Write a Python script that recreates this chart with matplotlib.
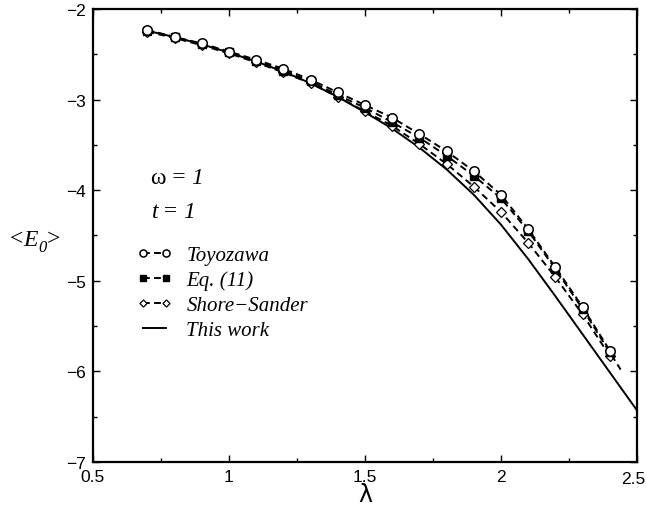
import numpy as np
import matplotlib
matplotlib.use("Agg")
import matplotlib.pyplot as plt
from matplotlib.ticker import MultipleLocator

# coupling values of the computed points
lam = [0.7, 0.8, 0.9, 1.0, 1.1, 1.2, 1.3, 1.4, 1.5, 1.6, 1.7, 1.8, 1.9, 2.0, 2.1, 2.2, 2.3, 2.4]

toyozawa = [-2.23, -2.31, -2.38, -2.47, -2.56, -2.66, -2.78, -2.92, -3.06,
            -3.20, -3.38, -3.57, -3.79, -4.05, -4.43, -4.85, -5.29, -5.77]

# Eq. (11): the dashed line runs a little past the last point
lam_eq11 = lam + [2.44]
eq11 = [-2.24, -2.31, -2.39, -2.48, -2.57, -2.68, -2.80, -2.95, -3.09,
        -3.25, -3.42, -3.62, -3.84, -4.09, -4.45, -4.87, -5.31, -5.79, -5.98]

shore_sander = [-2.25, -2.32, -2.40, -2.49, -2.59, -2.70, -2.82, -2.97, -3.13,
                -3.29, -3.49, -3.71, -3.96, -4.24, -4.58, -4.96, -5.37, -5.83]

lam_work = [0.7, 0.8, 0.9, 1.0, 1.1, 1.2, 1.3, 1.4, 1.5, 1.6, 1.7, 1.8, 1.9,
            2.0, 2.1, 2.2, 2.3, 2.4, 2.5]
this_work = [-2.24, -2.31, -2.39, -2.48, -2.58, -2.69, -2.82, -2.97, -3.14,
             -3.32, -3.53, -3.77, -4.05, -4.38, -4.76, -5.17, -5.59, -6.01, -6.43]

SERIF = 'Liberation Serif'


def chain_text(ax, x, y, pieces, **kw):
    # write text pieces one after another, each with its own style
    first, fkw = pieces[0]
    prev = ax.text(x, y, first, transform=ax.transAxes, family=SERIF, **fkw, **kw)
    for s, pkw in pieces[1:]:
        pkw = dict(pkw)
        dy = pkw.pop('dy', 0)
        prev = ax.annotate(s, xy=(1, 0), xycoords=prev, xytext=(0, dy),
                           textcoords='offset points', va='bottom', ha='left',
                           family=SERIF, **pkw)
    return prev


fig = plt.figure(figsize=(6.47, 5.10), dpi=100)
ax = fig.add_axes([0.1437, 0.0922, 0.8408, 0.8882])

dash = (0, (3.5, 2.2))
ax.plot(lam, toyozawa, color='black', lw=1.4, linestyle=dash, marker='o',
        markersize=6.8, markerfacecolor='white', markeredgewidth=1.1, label='Toyozawa', zorder=4)
ax.plot(lam_eq11, eq11, color='black', lw=1.4, linestyle=dash, marker='s',
        markersize=6.2, markevery=list(range(len(lam))), label='Eq. (11)', zorder=3)
ax.plot(lam, shore_sander, color='black', lw=1.4, linestyle=dash, marker='D',
        markersize=4.8, markerfacecolor='white', markeredgewidth=0.9,
        label='Shore\u2212Sander', zorder=2)
ax.plot(lam_work, this_work, color='black', lw=1.4, label='This work', zorder=1)

XMAX = 2.5
ax.set_xlim(0.5, XMAX)
ax.set_ylim(-7, -2)
ax.xaxis.set_major_locator(MultipleLocator(0.5))
ax.xaxis.set_minor_locator(MultipleLocator(0.25))
ax.yaxis.set_major_locator(MultipleLocator(1))
ax.yaxis.set_minor_locator(MultipleLocator(0.5))
# the last x label is written separately so it stays inside the figure
ax.xaxis.set_major_formatter(plt.FuncFormatter(lambda v, p: '' if v >= XMAX else '%g' % v))
ax.yaxis.set_major_formatter(plt.FuncFormatter(lambda v, p: ('%g' % v).replace('-', '\u2212')))
ax.tick_params(which='both', direction='in', top=True, right=True, width=1.0,
               labelsize=12.5, pad=5)
ax.tick_params(which='major', length=5)
ax.tick_params(which='minor', length=3)
for lbl in ax.get_xticklabels() + ax.get_yticklabels():
    lbl.set_family('Liberation Sans')
ax.annotate('%g' % XMAX, xy=(XMAX, 0), xycoords=ax.get_xaxis_transform(),
            xytext=(-2.5, -6.2), textcoords='offset points', ha='center', va='top',
            fontsize=12.5, family='Liberation Sans')
for s in ax.spines.values():
    s.set_linewidth(1.6)

ax.set_xlabel('\u03bb', fontsize=17, family='DejaVu Sans', labelpad=-1.5)

# <E_0> label, written piece by piece
chain_text(ax, -0.152, 0.48, [('<', dict(fontsize=17)),
                              ('E', dict(fontsize=17, style='italic')),
                              ('0', dict(fontsize=12, style='italic', dy=-4)),
                              ('>', dict(fontsize=17, dy=4))])

chain_text(ax, 0.106, 0.616, [('\u03c9 = ', dict(fontsize=17)),
                              ('1', dict(fontsize=17, style='italic'))])
chain_text(ax, 0.108, 0.54, [('t', dict(fontsize=17, style='italic')),
                             (' = ', dict(fontsize=17)),
                             ('1', dict(fontsize=17, style='italic'))])

leg = ax.legend(loc='upper left', bbox_to_anchor=(0.08, 0.477), frameon=False,
                borderaxespad=0, borderpad=0, handlelength=1.7, handletextpad=0.7,
                labelspacing=0.25, markerscale=0.75, numpoints=2,
                prop={'family': SERIF, 'style': 'italic', 'size': 15})

fig.savefig('out.png', dpi=100)
